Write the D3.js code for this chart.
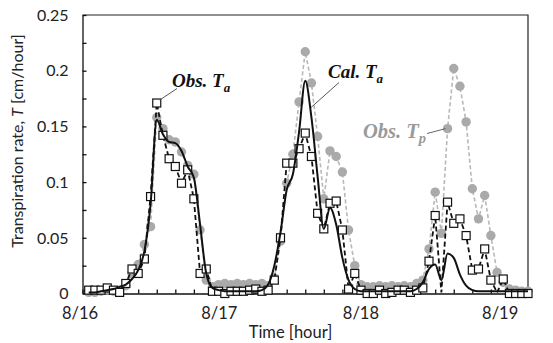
<!DOCTYPE html>
<html>
<head>
<meta charset="utf-8">
<script src="https://cdn.jsdelivr.net/npm/d3@7"></script>
<style>
    body { margin: 0; background: #fff; }
    svg { display: block; font-family: Lato, 'Open Sans', sans-serif; }
</style>
</head>
<body>
<div id="chart"></div>
<script>
// hourly samples, hour 1 .. 72 from 8/16 0:00
const hours = d3.range(1, 73);

const obsTa = [
    0.003, 0.003, 0.003, 0.005, 0.003, 0.001, 0.009, 0.022, 0.018, 0.031, 0.087, 0.171,
    0.142, 0.121, 0.114, 0.099, 0.111, 0.085, 0.018, 0.022, 0.002, 0.002, 0.000, 0.002,
    0.002, 0.002, 0.003, 0.004, 0.002, 0.003, 0.012, 0.050, 0.117, 0.117, 0.130, 0.144,
    0.123, 0.072, 0.058, 0.081, 0.083, 0.057, 0.004, 0.018, 0.003, 0.000, 0.000, 0.003,
    0.000, 0.001, 0.003, 0.003, 0.001, 0.003, 0.005, 0.029, 0.070, 0.001, 0.082, 0.063,
    0.067, 0.052, 0.021, 0.022, 0.040, 0.012, 0.001, 0.013, 0.000, 0.000, 0.000, 0.000
];
const calTa = [
    0.001, 0.001, 0.002, 0.003, 0.004, 0.006, 0.008, 0.013, 0.021, 0.038, 0.080, 0.156,
    0.143, 0.136, 0.135, 0.128, 0.114, 0.104, 0.062, 0.018, 0.005, 0.003, 0.002, 0.002,
    0.002, 0.002, 0.002, 0.002, 0.003, 0.008, 0.025, 0.055, 0.093, 0.107, 0.145, 0.191,
    0.158, 0.105, 0.058, 0.077, 0.062, 0.032, 0.012, 0.004, 0.002, 0.002, 0.002, 0.002,
    0.002, 0.002, 0.002, 0.002, 0.002, 0.004, 0.010, 0.022, 0.026, 0.012, 0.036, 0.032,
    0.017, 0.007, 0.003, 0.002, 0.002, 0.002, 0.002, 0.002, 0.002, 0.002, 0.002, 0.002
];
const obsTp = [
    0.001, 0.001, 0.002, 0.003, 0.002, 0.003, 0.007, 0.018, 0.026, 0.044, 0.060, 0.158,
    0.148, 0.138, 0.136, 0.127, 0.115, 0.107, 0.057, 0.012, 0.006, 0.008, 0.009, 0.008,
    0.009, 0.008, 0.009, 0.008, 0.009, 0.007, 0.014, 0.047, 0.099, 0.125, 0.172, 0.217,
    0.189, 0.141, 0.085, 0.128, 0.123, 0.109, 0.057, 0.025, 0.008, 0.006, 0.006, 0.007,
    0.006, 0.007, 0.006, 0.007, 0.006, 0.009, 0.012, 0.040, 0.091, 0.054, 0.148, 0.202,
    0.186, 0.154, 0.094, 0.067, 0.088, 0.052, 0.019, 0.010, 0.004, 0.003, 0.002, 0.002
];
// hours where the observed Ta line has no square marker
const noMarkerHours = [58, 67];

const yTicks = [0, 0.05, 0.1, 0.15, 0.2, 0.25];
const yTickLabels = ['0', '0.05', '0.1', '0.15', '0.2', '0.25'];
const dayLabels = ['8/16', '8/17', '8/18', '8/19'];
const dayLabelHours = [-0.4, 22.1, 45.0, 67.5];

const W = 553, H = 343;
const margin = { top: 15, right: 25, bottom: 49.5, left: 82.5 };
const width = W - margin.left - margin.right;
const height = H - margin.top - margin.bottom;

const svg = d3.select('#chart').append('svg')
    .attr('width', W)
    .attr('height', H);

const g = svg.append('g')
    .attr('transform', `translate(${margin.left},${margin.top})`);

const x = d3.scaleLinear().domain([0, 72]).range([0, width]);
const y = d3.scaleLinear().domain([0, 0.25]).range([height, 0]);

const pts = arr => hours.map((h, i) => ({ h, v: arr[i] }));

// frame (top / right)
g.append('path')
    .attr('d', `M0,0H${width}V${height}`)
    .attr('fill', 'none')
    .attr('stroke', '#222')
    .attr('stroke-width', 1.2);

// axes with inward ticks
g.append('g')
    .attr('transform', `translate(0,${height})`)
    .call(d3.axisBottom(x).tickValues(d3.range(0, 73, 3)).tickSize(-4).tickSizeOuter(0).tickFormat(''))
    .call(a => a.selectAll('line,path').attr('stroke', '#111').attr('stroke-width', 1.3));

g.append('g')
    .call(d3.axisLeft(y).tickValues(d3.range(0, 0.2501, 0.025)).tickSize(-4).tickSizeOuter(0).tickFormat(''))
    .call(a => a.selectAll('line,path').attr('stroke', '#111').attr('stroke-width', 1.3));

// tick labels
g.selectAll('.ylab')
    .data(yTicks)
    .enter()
    .append('text')
    .attr('x', -14)
    .attr('y', d => y(d))
    .attr('dy', '0.36em')
    .attr('text-anchor', 'end')
    .style('font-size', '16px')
    .style('fill', '#222')
    .text((d, i) => yTickLabels[i]);

g.selectAll('.xlab')
    .data(dayLabels)
    .enter()
    .append('text')
    .attr('x', (d, i) => x(dayLabelHours[i]))
    .attr('y', height + 25)
    .attr('text-anchor', 'middle')
    .style('font-size', '16.5px')
    .style('fill', '#222')
    .text(d => d);

svg.append('text')
    .attr('x', 290.5)
    .attr('y', 338)
    .attr('text-anchor', 'middle')
    .style('font-size', '16.5px')
    .style('fill', '#222')
    .text('Time [hour]');

const yTitle = svg.append('text')
    .attr('transform', 'translate(23,141) rotate(-90)')
    .attr('text-anchor', 'middle')
    .style('font-size', '16px')
    .style('fill', '#222');
yTitle.append('tspan').text('Transpiration rate, ');
yTitle.append('tspan').style('font-style', 'italic').text('T');
yTitle.append('tspan').text(' [cm/hour]');

// series
const line = d3.line().x(d => x(d.h)).y(d => y(d.v));

g.append('path')
    .datum(pts(obsTp))
    .attr('d', line)
    .attr('fill', 'none')
    .attr('stroke', '#b8b8b8')
    .attr('stroke-width', 1.6)
    .attr('stroke-dasharray', '4,2.5');

g.selectAll('.tp')
    .data(pts(obsTp))
    .enter()
    .append('circle')
    .attr('cx', d => x(d.h))
    .attr('cy', d => y(d.v))
    .attr('r', 4.7)
    .attr('fill', '#aaaaaa');

g.append('path')
    .datum(pts(obsTa))
    .attr('d', line)
    .attr('fill', 'none')
    .attr('stroke', '#111')
    .attr('stroke-width', 1.8)
    .attr('stroke-dasharray', '5,3');

const sq = 8;
g.selectAll('.ta')
    .data(pts(obsTa).filter(d => !noMarkerHours.includes(d.h)))
    .enter()
    .append('rect')
    .attr('x', d => x(d.h) - sq / 2)
    .attr('y', d => y(d.v) - sq / 2)
    .attr('width', sq)
    .attr('height', sq)
    .attr('fill', '#fff')
    .attr('stroke', '#111')
    .attr('stroke-width', 1.2);

g.append('path')
    .datum(pts(calTa))
    .attr('d', line.curve(d3.curveMonotoneX))
    .attr('fill', 'none')
    .attr('stroke', '#111')
    .attr('stroke-width', 2);

// annotations
const serif = "'Liberation Serif', 'DejaVu Serif', serif";
function label(px, py, main, sub, color, size, subSize) {
    const t = svg.append('text')
        .attr('x', px)
        .attr('y', py)
        .style('font-family', serif)
        .style('font-weight', 'bold')
        .style('font-style', 'italic')
        .style('font-size', size + 'px')
        .style('fill', color);
    t.append('tspan').text(main);
    t.append('tspan').attr('dy', 5).style('font-size', subSize + 'px').text(sub);
}
function leader(x1, y1, x2, y2, color) {
    svg.append('line')
        .attr('x1', x1).attr('y1', y1)
        .attr('x2', x2).attr('y2', y2)
        .attr('stroke', color)
        .attr('stroke-width', 0.9);
}

label(172, 87, 'Obs. T', 'a', '#111', 19, 13);
leader(margin.left + x(12) + 3, margin.top + y(obsTa[11]) - 3, 177, 88.5, '#444');

label(328, 78, 'Cal. T', 'a', '#111', 19, 13);
leader(311, 107.5, 339, 82.5, '#444');

label(363, 138, 'Obs. T', 'p', '#9a9a9a', 20.5, 14.5);
leader(427, 133.5, margin.left + x(59) - 2, margin.top + y(obsTp[58]), '#555');
</script>
</body>
</html>
